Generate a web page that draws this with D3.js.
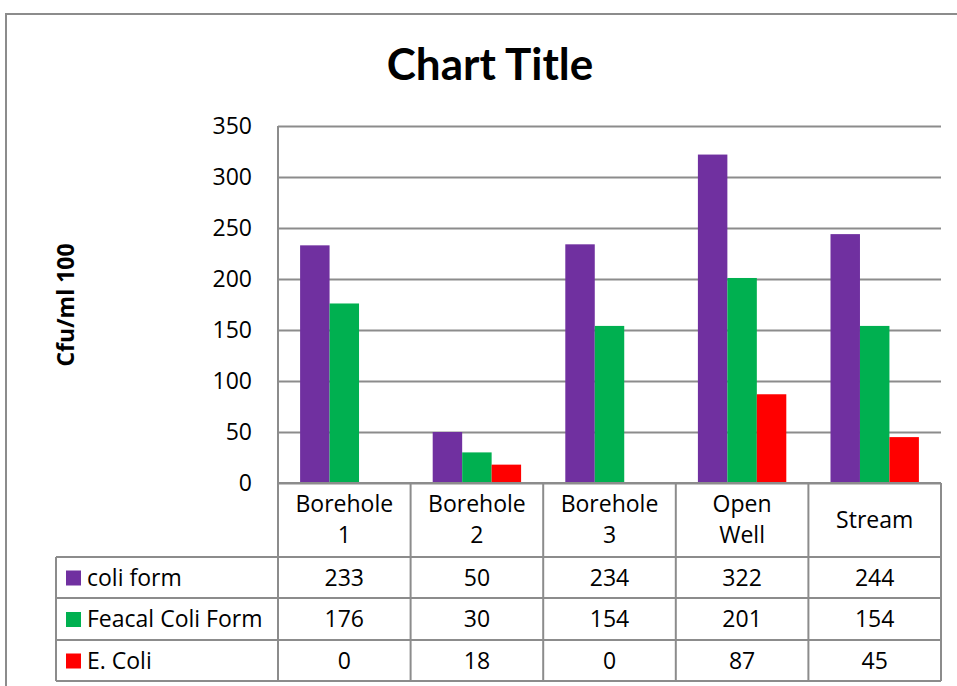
<!DOCTYPE html>
<html>
  <head>
    <script src="https://cdnjs.cloudflare.com/ajax/libs/d3/7.8.5/d3.min.js"></script>
    <style>
      body { margin: 0; background: #fff; overflow: hidden; }
      text { font-family: "Open Sans", Lato, sans-serif; fill: #000; }
    </style>
  </head>
  <body>
    <div id="chart"></div>
    <script>
      // data
      const categories = [["Borehole", "1"], ["Borehole", "2"], ["Borehole", "3"], ["Open", "Well"], ["Stream"]];
      const seriesNames = ["coli form", "Feacal Coli Form", "E. Coli"];
      const coliForm = [233, 50, 234, 322, 244];
      const feacalColiForm = [176, 30, 154, 201, 154];
      const eColi = [0, 18, 0, 87, 45];
      const yTicks = [0, 50, 100, 150, 200, 250, 300, 350];

      const seriesValues = [coliForm, feacalColiForm, eColi];
      const colors = ["#7030A0", "#00B050", "#FF0000"];
      const gridColor = "#8c8c8c";

      const W = 957, H = 686;
      const svg = d3.select("#chart").append("svg").attr("width", W).attr("height", H);

      // plot area
      const plotL = 278, plotR = 941, plotT = 126, plotB = 483;
      const tableLeft = 56;
      const rowY = [557, 598, 640, 681];

      const keys = categories.map((d, i) => i);
      const x = d3.scaleBand().domain(keys).range([plotL, plotR]);
      const bw = x.bandwidth();
      const xs = d3.scaleBand().domain(seriesNames).range([bw / 6, bw * 5 / 6]);
      const y = d3.scaleLinear().domain([0, 350]).range([plotB, plotT]);

      // chart border
      svg.append("path")
        .attr("d", `M6,${H} V14 H${W}`)
        .attr("fill", "none").attr("stroke", gridColor).attr("stroke-width", 2);

      // title
      svg.append("text")
        .attr("x", 490).attr("y", 80)
        .attr("text-anchor", "middle")
        .style("font-family", "Lato, sans-serif")
        .style("font-size", "44px").style("font-weight", "bold")
        .text("Chart Title");

      // gridlines + y labels
      const yAxis = svg.append("g")
        .attr("transform", `translate(${plotL},0)`)
        .call(d3.axisLeft(y).tickValues(yTicks).tickSize(-(plotR - plotL)).tickPadding(26));
      yAxis.select(".domain").remove();
      yAxis.selectAll("line").attr("stroke", gridColor).attr("stroke-width", 2);
      yAxis.selectAll("text").style("font-size", "23px").style("font-family", "'Open Sans', sans-serif");

      // y axis title
      svg.append("text")
        .attr("transform", `translate(74,305) rotate(-90)`)
        .attr("text-anchor", "middle")
        .style("font-size", "23px").style("font-weight", "bold")
        .text("Cfu/ml 100");

      // bars
      seriesNames.forEach((s, si) => {
        svg.append("g").selectAll("rect")
          .data(seriesValues[si])
          .join("rect")
          .attr("x", (d, i) => x(i) + xs(s))
          .attr("y", d => y(d))
          .attr("width", xs.bandwidth())
          .attr("height", d => y(0) - y(d))
          .attr("fill", colors[si]);
      });

      // data table lines
      const lines = svg.append("g").attr("stroke", gridColor).attr("stroke-width", 2).attr("fill", "none");
      lines.append("line").attr("x1", plotL).attr("x2", plotR).attr("y1", plotB).attr("y2", plotB);
      rowY.forEach(ry => {
        lines.append("line").attr("x1", tableLeft).attr("x2", plotR).attr("y1", ry).attr("y2", ry);
      });
      lines.append("line").attr("x1", plotL).attr("x2", plotL).attr("y1", plotT).attr("y2", rowY[3]);
      lines.append("line").attr("x1", tableLeft).attr("x2", tableLeft).attr("y1", rowY[0]).attr("y2", rowY[3]);
      keys.forEach(k => {
        lines.append("line").attr("x1", x(k) + bw).attr("x2", x(k) + bw).attr("y1", plotB).attr("y2", rowY[3]);
      });

      // category labels in header row
      categories.forEach((c, i) => {
        const t = svg.append("text")
          .attr("x", x(i) + bw / 2)
          .attr("text-anchor", "middle")
          .style("font-size", "23px");
        const startY = c.length === 1 ? 528 : 512;
        c.forEach((line, li) => {
          t.append("tspan").attr("x", x(i) + bw / 2).attr("y", startY + li * 31).text(line);
        });
      });

      // legend rows + values
      seriesNames.forEach((s, si) => {
        const y0 = rowY[si], y1 = rowY[si + 1];
        const cy = (y0 + y1) / 2;
        svg.append("rect")
          .attr("x", 66).attr("y", cy - 7)
          .attr("width", 15).attr("height", 15)
          .attr("fill", colors[si]);
        svg.append("text")
          .attr("x", 87).attr("y", cy + 8)
          .style("font-size", "23px")
          .text(s);
        svg.append("g").selectAll("text")
          .data(seriesValues[si])
          .join("text")
          .attr("x", (d, i) => x(i) + bw / 2)
          .attr("y", cy + 8)
          .attr("text-anchor", "middle")
          .style("font-size", "23px")
          .text(d => d);
      });
    </script>
  </body>
</html>
